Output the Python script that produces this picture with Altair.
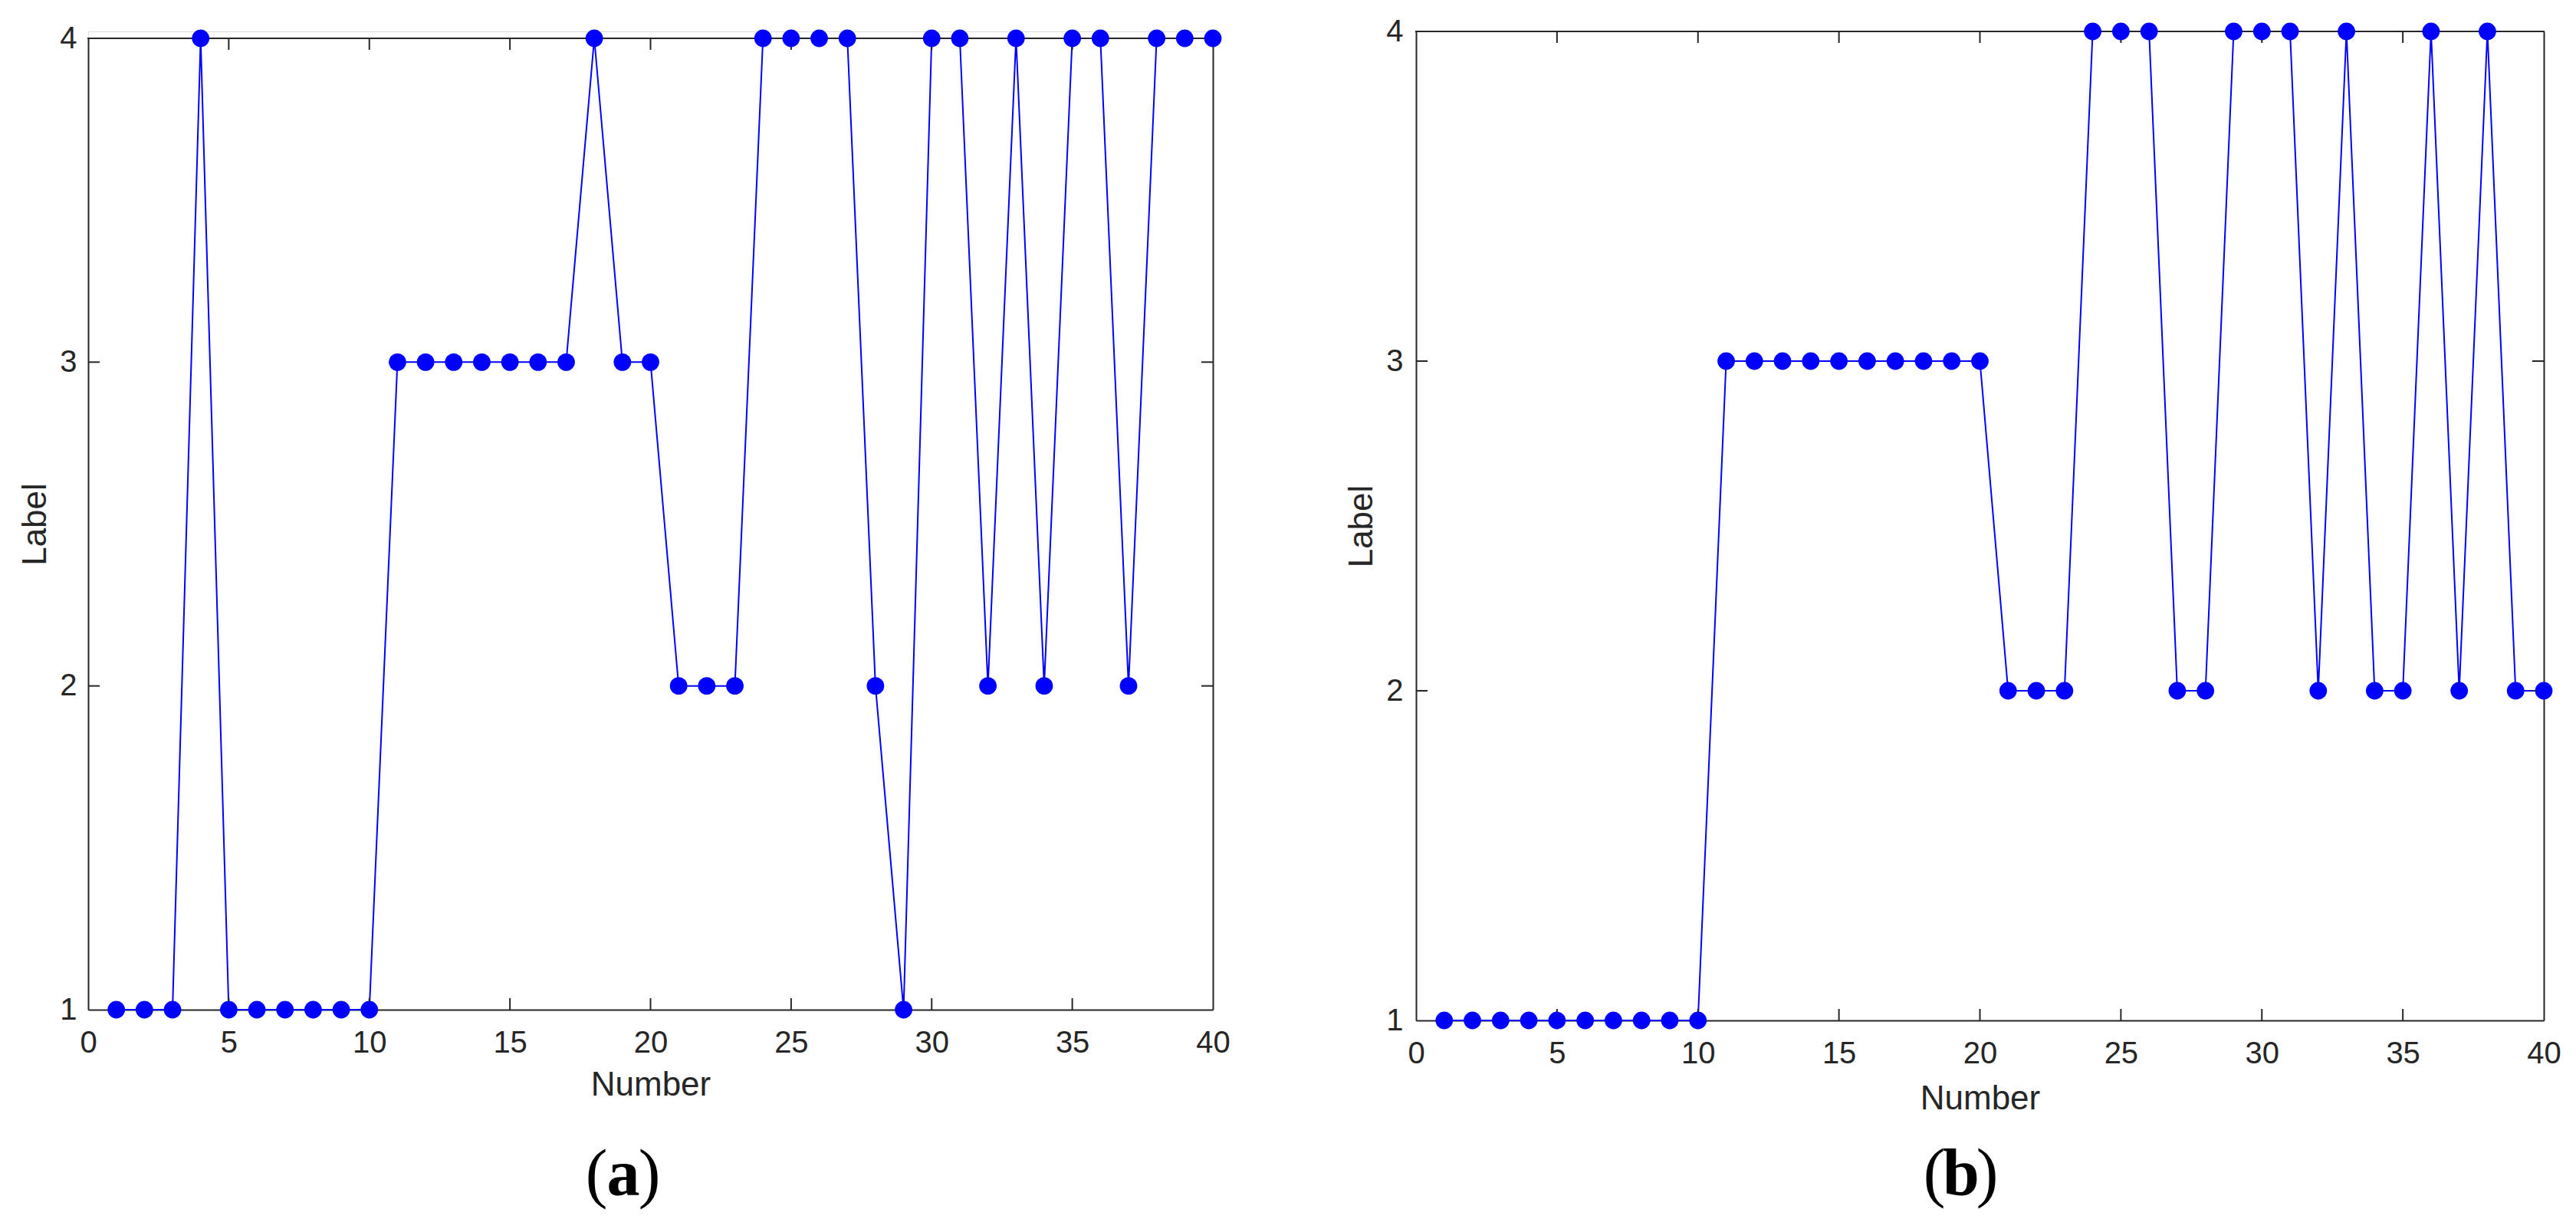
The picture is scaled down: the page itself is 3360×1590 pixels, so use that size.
import altair as alt
import pandas as pd

numbers = list(range(1, 41))
labels_a = [1, 1, 1, 4, 1, 1, 1, 1, 1, 1,
            3, 3, 3, 3, 3, 3, 3, 4, 3, 3,
            2, 2, 2, 4, 4, 4, 4, 2, 1, 4,
            4, 2, 4, 2, 4, 4, 2, 4, 4, 4]
labels_b = [1, 1, 1, 1, 1, 1, 1, 1, 1, 1,
            3, 3, 3, 3, 3, 3, 3, 3, 3, 3,
            2, 2, 2, 4, 4, 4, 2, 2, 4, 4,
            4, 2, 4, 2, 2, 4, 2, 4, 2, 2]
x_tick_values = [0, 5, 10, 15, 20, 25, 30, 35, 40]
y_tick_values = [1, 2, 3, 4]
x_inner_ticks = [5, 10, 15, 20, 25, 30, 35]
y_inner_ticks = [2, 3]
captions = ["a", "b"]

BLUE = "#0000FF"
AX = "#262626"
FONT = "Liberation Sans"
SERIF = "Liberation Serif"
TICK = 15


def panel(vals, W, H, top_gap, letter, cap_dy, cap_dx, ylp, ytp, xtp):
    df = pd.DataFrame({"Number": numbers, "Label": vals})
    xs = alt.Scale(domain=[0, 40], nice=False, zero=False)
    ys = alt.Scale(domain=[1, 4], nice=False, zero=False, range=[H, top_gap])
    base = alt.Chart(df)

    ax_common = dict(
        domainColor=AX, domainWidth=2, ticks=False, tickSize=0, grid=False,
        labelFont=FONT, labelFontSize=40, labelColor=AX,
        titleFont=FONT, titleFontSize=44, titleColor=AX, titleFontWeight="normal",
    )

    line = base.mark_line(color=BLUE, strokeWidth=2).encode(
        x=alt.X("Number:Q", scale=xs,
                axis=alt.Axis(orient="bottom", values=x_tick_values, title="Number",
                              labelPadding=23, titlePadding=xtp, labelFlush=False,
                              **ax_common)),
        y=alt.Y("Label:Q", scale=ys,
                axis=alt.Axis(orient="left", values=y_tick_values, title="Label",
                              labelPadding=ylp, titlePadding=ytp, labelFlush=False,
                              **ax_common)),
    )
    frame = base.mark_line(opacity=0).encode(
        x=alt.X("Number:Q", scale=xs, axis=None),
        y=alt.Y("Label:Q", scale=ys,
                axis=alt.Axis(orient="right", labels=False, title=None, values=y_tick_values,
                              **ax_common)),
    )
    pts = base.mark_circle(size=520, color=BLUE, opacity=1).encode(
        x=alt.X("Number:Q", scale=xs, axis=None),
        y=alt.Y("Label:Q", scale=ys, axis=None))

    capdf = pd.DataFrame({"c": [letter]})
    top_border = alt.Chart(capdf).mark_rule(color=AX, strokeWidth=2).encode(
        x=alt.value(-1), x2=alt.value(W + 1), y=alt.value(top_gap))

    txd = pd.DataFrame({"t": x_inner_ticks})
    tyd = pd.DataFrame({"t": y_inner_ticks})
    tb = alt.Chart(txd).mark_rule(color=AX, strokeWidth=2).encode(
        x=alt.X("t:Q", scale=xs, axis=None), y=alt.value(H), y2=alt.value(H - TICK))
    tt = alt.Chart(txd).mark_rule(color=AX, strokeWidth=2).encode(
        x=alt.X("t:Q", scale=xs, axis=None), y=alt.value(top_gap),
        y2=alt.value(top_gap + TICK))
    tl = alt.Chart(tyd).mark_rule(color=AX, strokeWidth=2).encode(
        y=alt.Y("t:Q", scale=ys, axis=None), x=alt.value(0), x2=alt.value(TICK))
    tr = alt.Chart(tyd).mark_rule(color=AX, strokeWidth=2).encode(
        y=alt.Y("t:Q", scale=ys, axis=None), x=alt.value(W), x2=alt.value(W - TICK))

    cx = W / 2 + cap_dx
    cy = H + cap_dy
    c1 = alt.Chart(capdf).mark_text(text="(", font=SERIF, fontSize=86, color="black",
                                    baseline="alphabetic", align="center").encode(
        x=alt.value(cx - 35), y=alt.value(cy))
    c2 = alt.Chart(capdf).mark_text(font=SERIF, fontSize=86, fontWeight="bold", color="black",
                                    baseline="alphabetic", align="center").encode(
        x=alt.value(cx), y=alt.value(cy), text="c:N")
    c3 = alt.Chart(capdf).mark_text(text=")", font=SERIF, fontSize=86, color="black",
                                    baseline="alphabetic", align="center").encode(
        x=alt.value(cx + 34), y=alt.value(cy))

    layers = [frame, line, top_border, tb, tt, tl, tr, pts, c1, c2, c3]
    return alt.layer(*layers).resolve_axis(
        x="independent", y="independent"
    ).properties(width=W, height=H)


pa = panel(labels_a, 1467, 1276, 9, captions[0], 242, -35.5, 15, 9, 13)
pb = panel(labels_b, 1471, 1290, 0, captions[1], 227, -24.5, 17, 9, 17)

chart = alt.ConcatChart(concat=[pa, pb], columns=2, spacing=149).properties(
    padding={"left": 16, "top": 12, "right": 2, "bottom": 2}
).configure_view(stroke=None).configure(background="white")

chart.save("out.html", embed_options={"renderer": "svg", "actions": False})
